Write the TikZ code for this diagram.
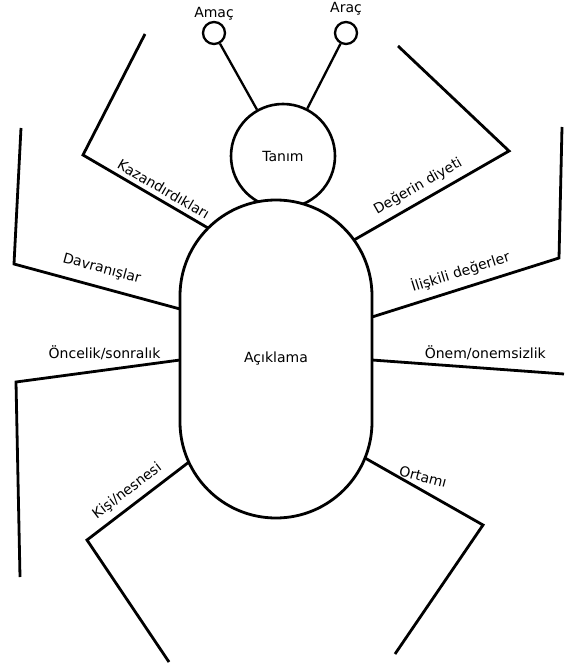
\documentclass[tikz,border=0pt]{standalone}
\usepackage{fontspec}
\setmainfont{DejaVu Sans}
\usetikzlibrary{positioning}

\begin{document}
\begin{tikzpicture}[
    x=1pt, y=-1pt,
    font=\fontsize{14}{16}\selectfont,
    myhead/.style={draw, line width=2.6pt, circle, minimum size=104pt, inner sep=0pt},
    mybody/.style={draw, line width=2.8pt, fill=white, rounded corners=96pt, minimum width=192pt, minimum height=318pt},
    myknob/.style={draw, line width=2.3pt, circle, minimum size=22pt, inner sep=0pt},
    myleg/.style={line width=2.8pt, line join=miter},
    mylabel/.style={above=#1, sloped},
    mylabel/.default=3pt,
    mytext/.style={above=#1}
]
  \useasboundingbox (0,0) rectangle (564,668);

  % Nodes
  \node[myhead] (tanim) at (283,156) {Tanım};
  \node[mybody] (aciklama) at (276,359) {Açıklama};
  \node[myknob] (amac) at (214,33) {};
  \node[myknob] (arac) at (346,33) {};
  \node[above=-3pt of amac] (amaclbl) {Amaç};
  \node[above=2pt of arac] (araclbl) {Araç};

  % Leg points
  \coordinate (kazhip) at (208,228);
  \coordinate (kazknee) at (83,155);
  \coordinate (kazfoot) at (145,34);
  \coordinate (deghip) at (354,240);
  \coordinate (degknee) at (509,151);
  \coordinate (degfoot) at (398,46);
  \coordinate (davhip) at (180,309);
  \coordinate (davknee) at (14,264);
  \coordinate (davfoot) at (21,128);
  \coordinate (ilihip) at (372,317);
  \coordinate (iliknee) at (559,258);
  \coordinate (ilifoot) at (562,127);
  \coordinate (onchip) at (180,360);
  \coordinate (oncknee) at (16,382);
  \coordinate (oncfoot) at (20,577);
  \coordinate (onemhip) at (372,360);
  \coordinate (onemend) at (564,374);
  \coordinate (kisihip) at (189,462);
  \coordinate (kisiknee) at (87,540);
  \coordinate (kisifoot) at (169,662);
  \coordinate (orthip) at (365,458);
  \coordinate (ortknee) at (483,525);
  \coordinate (ortfoot) at (395,654);

  % Antennae
  \draw[line width=2.3pt] (amac) -- (tanim);
  \draw[line width=2.3pt] (arac) -- (tanim);

  % Legs
  \draw[myleg] (kazfoot) -- (kazknee) -- node[mylabel=1pt, pos=0.6] {Kazandırdıkları} (kazhip);
  \draw[myleg] (deghip) -- node[mylabel=3pt, pos=0.46] {Değerin diyeti} (degknee) -- (degfoot);
  \draw[myleg] (davfoot) -- (davknee) -- node[mylabel=7pt, pos=0.5] {Davranışlar} (davhip);
  \draw[myleg] (ilihip) -- node[mylabel=4pt, pos=0.5] {İlişkili değerler} (iliknee) -- (ilifoot);
  \draw[myleg] (oncfoot) -- (oncknee) -- node[mytext=6pt, pos=0.54] {Öncelik/sonralık} (onchip);
  \draw[myleg] (onemhip) -- node[mytext=4pt, pos=0.59] {Önem/onemsizlik} (onemend);
  \draw[myleg] (kisifoot) -- (kisiknee) -- node[mylabel=3pt, pos=0.48] {Kişi/nesnesi} (kisihip);
  \draw[myleg] (orthip) -- node[mytext=3pt, rotate=-15, pos=0.47] {Ortamı} (ortknee) -- (ortfoot);

\end{tikzpicture}
\end{document}
